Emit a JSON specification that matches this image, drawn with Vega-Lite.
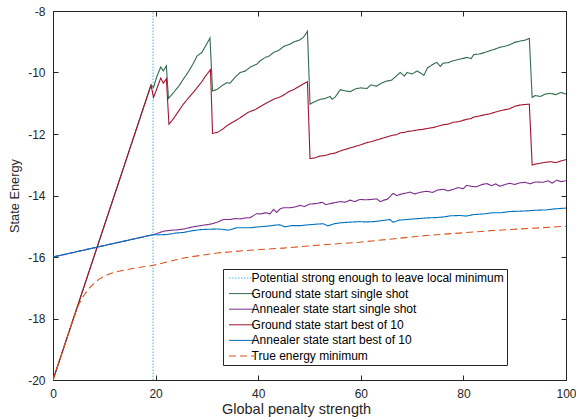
{
"$schema": "https://vega.github.io/schema/vega-lite/v6.json",
"autosize": "none",
"width": 513,
"height": 369,
"padding": {"left": 53, "top": 11, "right": 10, "bottom": 40},
"background": "white",
"datasets": {
"main": [
{"s":"Potential strong enough to leave local minimum","x":19.5,"y":-20},
{"s":"Potential strong enough to leave local minimum","x":19.5,"y":-8},
{"s":"Ground state start single shot","x":0,"y":-20},
{"s":"Ground state start single shot","x":19.1,"y":-10.41},
{"s":"Ground state start single shot","x":19.6,"y":-10.49},
{"s":"Ground state start single shot","x":20.2,"y":-10.15},
{"s":"Ground state start single shot","x":21.0,"y":-9.82},
{"s":"Ground state start single shot","x":21.5,"y":-9.95},
{"s":"Ground state start single shot","x":22.1,"y":-9.78},
{"s":"Ground state start single shot","x":22.5,"y":-10.84},
{"s":"Ground state start single shot","x":23.5,"y":-10.65},
{"s":"Ground state start single shot","x":24.5,"y":-10.45},
{"s":"Ground state start single shot","x":25.4,"y":-10.22},
{"s":"Ground state start single shot","x":26.3,"y":-10.0},
{"s":"Ground state start single shot","x":27.2,"y":-9.75},
{"s":"Ground state start single shot","x":28.1,"y":-9.46},
{"s":"Ground state start single shot","x":29.0,"y":-9.35},
{"s":"Ground state start single shot","x":29.8,"y":-9.12},
{"s":"Ground state start single shot","x":30.6,"y":-8.88},
{"s":"Ground state start single shot","x":31.1,"y":-10.6},
{"s":"Ground state start single shot","x":32,"y":-10.55},
{"s":"Ground state start single shot","x":33,"y":-10.42},
{"s":"Ground state start single shot","x":33.9,"y":-10.33},
{"s":"Ground state start single shot","x":34.5,"y":-10.35},
{"s":"Ground state start single shot","x":35.5,"y":-10.15},
{"s":"Ground state start single shot","x":36.5,"y":-10.0},
{"s":"Ground state start single shot","x":37.5,"y":-9.95},
{"s":"Ground state start single shot","x":38.5,"y":-9.82},
{"s":"Ground state start single shot","x":39.7,"y":-9.73},
{"s":"Ground state start single shot","x":40.5,"y":-9.6},
{"s":"Ground state start single shot","x":41.5,"y":-9.5},
{"s":"Ground state start single shot","x":42,"y":-9.48},
{"s":"Ground state start single shot","x":43,"y":-9.35},
{"s":"Ground state start single shot","x":44,"y":-9.28},
{"s":"Ground state start single shot","x":45,"y":-9.15},
{"s":"Ground state start single shot","x":46.2,"y":-9.08},
{"s":"Ground state start single shot","x":47,"y":-9.0},
{"s":"Ground state start single shot","x":48,"y":-8.95},
{"s":"Ground state start single shot","x":48.8,"y":-8.86},
{"s":"Ground state start single shot","x":49.6,"y":-8.66},
{"s":"Ground state start single shot","x":50.1,"y":-11.03},
{"s":"Ground state start single shot","x":51,"y":-10.95},
{"s":"Ground state start single shot","x":52.1,"y":-10.87},
{"s":"Ground state start single shot","x":53,"y":-10.85},
{"s":"Ground state start single shot","x":54,"y":-10.78},
{"s":"Ground state start single shot","x":54.4,"y":-10.87},
{"s":"Ground state start single shot","x":55,"y":-10.8},
{"s":"Ground state start single shot","x":56,"y":-10.56},
{"s":"Ground state start single shot","x":57,"y":-10.6},
{"s":"Ground state start single shot","x":58,"y":-10.62},
{"s":"Ground state start single shot","x":59,"y":-10.53},
{"s":"Ground state start single shot","x":60,"y":-10.5},
{"s":"Ground state start single shot","x":61.2,"y":-10.52},
{"s":"Ground state start single shot","x":62,"y":-10.4},
{"s":"Ground state start single shot","x":63,"y":-10.45},
{"s":"Ground state start single shot","x":64,"y":-10.35},
{"s":"Ground state start single shot","x":65,"y":-10.28},
{"s":"Ground state start single shot","x":66,"y":-10.25},
{"s":"Ground state start single shot","x":67,"y":-10.1},
{"s":"Ground state start single shot","x":67.7,"y":-10.0},
{"s":"Ground state start single shot","x":68.5,"y":-10.12},
{"s":"Ground state start single shot","x":69,"y":-10.0},
{"s":"Ground state start single shot","x":70,"y":-10.05},
{"s":"Ground state start single shot","x":71,"y":-9.95},
{"s":"Ground state start single shot","x":72.3,"y":-10.09},
{"s":"Ground state start single shot","x":73,"y":-9.85},
{"s":"Ground state start single shot","x":74.1,"y":-9.73},
{"s":"Ground state start single shot","x":74.8,"y":-9.67},
{"s":"Ground state start single shot","x":75.5,"y":-9.8},
{"s":"Ground state start single shot","x":76,"y":-9.7},
{"s":"Ground state start single shot","x":77,"y":-9.68},
{"s":"Ground state start single shot","x":78,"y":-9.62},
{"s":"Ground state start single shot","x":79,"y":-9.58},
{"s":"Ground state start single shot","x":80.7,"y":-9.51},
{"s":"Ground state start single shot","x":81.5,"y":-9.55},
{"s":"Ground state start single shot","x":82,"y":-9.42},
{"s":"Ground state start single shot","x":83,"y":-9.4},
{"s":"Ground state start single shot","x":84,"y":-9.36},
{"s":"Ground state start single shot","x":85,"y":-9.3},
{"s":"Ground state start single shot","x":86,"y":-9.25},
{"s":"Ground state start single shot","x":87.1,"y":-9.18},
{"s":"Ground state start single shot","x":88,"y":-9.15},
{"s":"Ground state start single shot","x":89,"y":-9.1},
{"s":"Ground state start single shot","x":90,"y":-9.02},
{"s":"Ground state start single shot","x":91,"y":-8.98},
{"s":"Ground state start single shot","x":92,"y":-8.95},
{"s":"Ground state start single shot","x":92.85,"y":-8.89},
{"s":"Ground state start single shot","x":93.4,"y":-10.81},
{"s":"Ground state start single shot","x":94,"y":-10.75},
{"s":"Ground state start single shot","x":95,"y":-10.78},
{"s":"Ground state start single shot","x":96,"y":-10.7},
{"s":"Ground state start single shot","x":97,"y":-10.68},
{"s":"Ground state start single shot","x":98,"y":-10.72},
{"s":"Ground state start single shot","x":99,"y":-10.65},
{"s":"Ground state start single shot","x":100,"y":-10.7},
{"s":"Annealer state start single shot","x":0,"y":-16},
{"s":"Annealer state start single shot","x":19.6,"y":-15.27},
{"s":"Annealer state start single shot","x":20,"y":-15.25},
{"s":"Annealer state start single shot","x":21.6,"y":-15.16},
{"s":"Annealer state start single shot","x":23,"y":-15.13},
{"s":"Annealer state start single shot","x":24,"y":-15.12},
{"s":"Annealer state start single shot","x":25.5,"y":-15.09},
{"s":"Annealer state start single shot","x":27,"y":-15.03},
{"s":"Annealer state start single shot","x":28.7,"y":-14.98},
{"s":"Annealer state start single shot","x":30,"y":-14.95},
{"s":"Annealer state start single shot","x":31,"y":-14.92},
{"s":"Annealer state start single shot","x":32,"y":-14.87},
{"s":"Annealer state start single shot","x":33.2,"y":-14.78},
{"s":"Annealer state start single shot","x":34.5,"y":-14.78},
{"s":"Annealer state start single shot","x":35.5,"y":-14.75},
{"s":"Annealer state start single shot","x":36.5,"y":-14.76},
{"s":"Annealer state start single shot","x":37.5,"y":-14.73},
{"s":"Annealer state start single shot","x":38.4,"y":-14.72},
{"s":"Annealer state start single shot","x":39.7,"y":-14.59},
{"s":"Annealer state start single shot","x":40.5,"y":-14.6},
{"s":"Annealer state start single shot","x":41.5,"y":-14.56},
{"s":"Annealer state start single shot","x":42.3,"y":-14.6},
{"s":"Annealer state start single shot","x":43,"y":-14.45},
{"s":"Annealer state start single shot","x":43.6,"y":-14.55},
{"s":"Annealer state start single shot","x":44.3,"y":-14.43},
{"s":"Annealer state start single shot","x":45,"y":-14.4},
{"s":"Annealer state start single shot","x":46,"y":-14.4},
{"s":"Annealer state start single shot","x":47,"y":-14.38},
{"s":"Annealer state start single shot","x":48.2,"y":-14.32},
{"s":"Annealer state start single shot","x":49,"y":-14.36},
{"s":"Annealer state start single shot","x":50,"y":-14.28},
{"s":"Annealer state start single shot","x":51.4,"y":-14.26},
{"s":"Annealer state start single shot","x":52.5,"y":-14.22},
{"s":"Annealer state start single shot","x":53.2,"y":-14.3},
{"s":"Annealer state start single shot","x":54.7,"y":-14.24},
{"s":"Annealer state start single shot","x":56,"y":-14.2},
{"s":"Annealer state start single shot","x":57,"y":-14.22},
{"s":"Annealer state start single shot","x":57.9,"y":-14.15},
{"s":"Annealer state start single shot","x":58.8,"y":-14.2},
{"s":"Annealer state start single shot","x":59.8,"y":-14.13},
{"s":"Annealer state start single shot","x":61,"y":-14.14},
{"s":"Annealer state start single shot","x":62,"y":-14.13},
{"s":"Annealer state start single shot","x":63.1,"y":-14.11},
{"s":"Annealer state start single shot","x":63.8,"y":-14.2},
{"s":"Annealer state start single shot","x":64.5,"y":-14.15},
{"s":"Annealer state start single shot","x":65.2,"y":-14.12},
{"s":"Annealer state start single shot","x":66.3,"y":-13.93},
{"s":"Annealer state start single shot","x":67,"y":-14.0},
{"s":"Annealer state start single shot","x":68,"y":-13.95},
{"s":"Annealer state start single shot","x":69.6,"y":-13.89},
{"s":"Annealer state start single shot","x":70.5,"y":-13.95},
{"s":"Annealer state start single shot","x":71.5,"y":-13.9},
{"s":"Annealer state start single shot","x":72.8,"y":-13.86},
{"s":"Annealer state start single shot","x":74,"y":-13.9},
{"s":"Annealer state start single shot","x":75,"y":-13.82},
{"s":"Annealer state start single shot","x":76.1,"y":-13.8},
{"s":"Annealer state start single shot","x":77,"y":-13.85},
{"s":"Annealer state start single shot","x":78,"y":-13.8},
{"s":"Annealer state start single shot","x":79,"y":-13.74},
{"s":"Annealer state start single shot","x":80,"y":-13.78},
{"s":"Annealer state start single shot","x":80.6,"y":-13.67},
{"s":"Annealer state start single shot","x":81.5,"y":-13.7},
{"s":"Annealer state start single shot","x":82.5,"y":-13.72},
{"s":"Annealer state start single shot","x":83.5,"y":-13.65},
{"s":"Annealer state start single shot","x":84.5,"y":-13.61},
{"s":"Annealer state start single shot","x":85.5,"y":-13.68},
{"s":"Annealer state start single shot","x":86.3,"y":-13.62},
{"s":"Annealer state start single shot","x":87.1,"y":-13.7},
{"s":"Annealer state start single shot","x":88,"y":-13.65},
{"s":"Annealer state start single shot","x":89,"y":-13.6},
{"s":"Annealer state start single shot","x":90,"y":-13.64},
{"s":"Annealer state start single shot","x":91,"y":-13.59},
{"s":"Annealer state start single shot","x":92,"y":-13.57},
{"s":"Annealer state start single shot","x":93,"y":-13.62},
{"s":"Annealer state start single shot","x":94,"y":-13.56},
{"s":"Annealer state start single shot","x":95.6,"y":-13.57},
{"s":"Annealer state start single shot","x":96.5,"y":-13.52},
{"s":"Annealer state start single shot","x":97.3,"y":-13.6},
{"s":"Annealer state start single shot","x":98.2,"y":-13.5},
{"s":"Annealer state start single shot","x":99,"y":-13.55},
{"s":"Annealer state start single shot","x":100,"y":-13.52},
{"s":"Ground state start best of 10","x":0,"y":-20},
{"s":"Ground state start best of 10","x":19.1,"y":-10.41},
{"s":"Ground state start best of 10","x":19.6,"y":-10.81},
{"s":"Ground state start best of 10","x":20.3,"y":-10.5},
{"s":"Ground state start best of 10","x":21.0,"y":-10.18},
{"s":"Ground state start best of 10","x":21.5,"y":-10.35},
{"s":"Ground state start best of 10","x":22.1,"y":-10.2},
{"s":"Ground state start best of 10","x":22.6,"y":-11.68},
{"s":"Ground state start best of 10","x":23.5,"y":-11.5},
{"s":"Ground state start best of 10","x":24.5,"y":-11.25},
{"s":"Ground state start best of 10","x":25.4,"y":-11.03},
{"s":"Ground state start best of 10","x":26.3,"y":-10.85},
{"s":"Ground state start best of 10","x":27.2,"y":-10.68},
{"s":"Ground state start best of 10","x":28.1,"y":-10.49},
{"s":"Ground state start best of 10","x":29,"y":-10.3},
{"s":"Ground state start best of 10","x":29.8,"y":-10.1},
{"s":"Ground state start best of 10","x":30.7,"y":-9.91},
{"s":"Ground state start best of 10","x":31.1,"y":-11.98},
{"s":"Ground state start best of 10","x":32,"y":-11.95},
{"s":"Ground state start best of 10","x":33,"y":-11.85},
{"s":"Ground state start best of 10","x":34,"y":-11.72},
{"s":"Ground state start best of 10","x":35,"y":-11.62},
{"s":"Ground state start best of 10","x":36.5,"y":-11.47},
{"s":"Ground state start best of 10","x":38,"y":-11.3},
{"s":"Ground state start best of 10","x":39.5,"y":-11.2},
{"s":"Ground state start best of 10","x":41,"y":-11.05},
{"s":"Ground state start best of 10","x":43,"y":-10.87},
{"s":"Ground state start best of 10","x":44.5,"y":-10.78},
{"s":"Ground state start best of 10","x":46,"y":-10.62},
{"s":"Ground state start best of 10","x":47,"y":-10.55},
{"s":"Ground state start best of 10","x":48.2,"y":-10.43},
{"s":"Ground state start best of 10","x":49.6,"y":-10.3},
{"s":"Ground state start best of 10","x":50.1,"y":-12.8},
{"s":"Ground state start best of 10","x":51,"y":-12.78},
{"s":"Ground state start best of 10","x":52,"y":-12.72},
{"s":"Ground state start best of 10","x":53,"y":-12.7},
{"s":"Ground state start best of 10","x":54,"y":-12.65},
{"s":"Ground state start best of 10","x":55,"y":-12.62},
{"s":"Ground state start best of 10","x":56,"y":-12.55},
{"s":"Ground state start best of 10","x":57,"y":-12.5},
{"s":"Ground state start best of 10","x":58,"y":-12.45},
{"s":"Ground state start best of 10","x":59,"y":-12.4},
{"s":"Ground state start best of 10","x":60,"y":-12.35},
{"s":"Ground state start best of 10","x":61.2,"y":-12.28},
{"s":"Ground state start best of 10","x":62,"y":-12.25},
{"s":"Ground state start best of 10","x":63,"y":-12.2},
{"s":"Ground state start best of 10","x":64,"y":-12.15},
{"s":"Ground state start best of 10","x":65,"y":-12.1},
{"s":"Ground state start best of 10","x":66,"y":-12.05},
{"s":"Ground state start best of 10","x":67,"y":-12.02},
{"s":"Ground state start best of 10","x":67.7,"y":-11.96},
{"s":"Ground state start best of 10","x":68.5,"y":-11.95},
{"s":"Ground state start best of 10","x":69,"y":-11.92},
{"s":"Ground state start best of 10","x":70,"y":-11.9},
{"s":"Ground state start best of 10","x":71,"y":-11.87},
{"s":"Ground state start best of 10","x":72,"y":-11.85},
{"s":"Ground state start best of 10","x":73,"y":-11.82},
{"s":"Ground state start best of 10","x":74.1,"y":-11.79},
{"s":"Ground state start best of 10","x":75,"y":-11.75},
{"s":"Ground state start best of 10","x":76,"y":-11.7},
{"s":"Ground state start best of 10","x":77,"y":-11.68},
{"s":"Ground state start best of 10","x":78,"y":-11.62},
{"s":"Ground state start best of 10","x":79,"y":-11.6},
{"s":"Ground state start best of 10","x":80.7,"y":-11.52},
{"s":"Ground state start best of 10","x":81.5,"y":-11.5},
{"s":"Ground state start best of 10","x":82,"y":-11.45},
{"s":"Ground state start best of 10","x":83,"y":-11.42},
{"s":"Ground state start best of 10","x":84,"y":-11.38},
{"s":"Ground state start best of 10","x":85,"y":-11.35},
{"s":"Ground state start best of 10","x":86,"y":-11.3},
{"s":"Ground state start best of 10","x":87,"y":-11.25},
{"s":"Ground state start best of 10","x":88.4,"y":-11.2},
{"s":"Ground state start best of 10","x":89,"y":-11.18},
{"s":"Ground state start best of 10","x":90,"y":-11.1},
{"s":"Ground state start best of 10","x":91,"y":-11.06},
{"s":"Ground state start best of 10","x":92,"y":-11.04},
{"s":"Ground state start best of 10","x":92.85,"y":-11.03},
{"s":"Ground state start best of 10","x":93.4,"y":-13.01},
{"s":"Ground state start best of 10","x":94,"y":-12.98},
{"s":"Ground state start best of 10","x":95,"y":-12.95},
{"s":"Ground state start best of 10","x":96,"y":-12.92},
{"s":"Ground state start best of 10","x":97,"y":-12.9},
{"s":"Ground state start best of 10","x":98,"y":-12.93},
{"s":"Ground state start best of 10","x":99,"y":-12.88},
{"s":"Ground state start best of 10","x":100,"y":-12.83},
{"s":"Annealer state start best of 10","x":0,"y":-16},
{"s":"Annealer state start best of 10","x":19.6,"y":-15.27},
{"s":"Annealer state start best of 10","x":20.5,"y":-15.28},
{"s":"Annealer state start best of 10","x":22.2,"y":-15.27},
{"s":"Annealer state start best of 10","x":23,"y":-15.25},
{"s":"Annealer state start best of 10","x":24,"y":-15.22},
{"s":"Annealer state start best of 10","x":25.5,"y":-15.2},
{"s":"Annealer state start best of 10","x":27,"y":-15.15},
{"s":"Annealer state start best of 10","x":28.7,"y":-15.11},
{"s":"Annealer state start best of 10","x":30,"y":-15.1},
{"s":"Annealer state start best of 10","x":32,"y":-15.09},
{"s":"Annealer state start best of 10","x":33,"y":-15.1},
{"s":"Annealer state start best of 10","x":34.2,"y":-15.13},
{"s":"Annealer state start best of 10","x":35.8,"y":-15.05},
{"s":"Annealer state start best of 10","x":37,"y":-15.05},
{"s":"Annealer state start best of 10","x":38.4,"y":-15.05},
{"s":"Annealer state start best of 10","x":40,"y":-15.02},
{"s":"Annealer state start best of 10","x":41.6,"y":-15.0},
{"s":"Annealer state start best of 10","x":43,"y":-14.97},
{"s":"Annealer state start best of 10","x":44.2,"y":-14.95},
{"s":"Annealer state start best of 10","x":45.2,"y":-15.02},
{"s":"Annealer state start best of 10","x":46.5,"y":-14.98},
{"s":"Annealer state start best of 10","x":48.2,"y":-14.98},
{"s":"Annealer state start best of 10","x":50,"y":-14.95},
{"s":"Annealer state start best of 10","x":51.5,"y":-14.93},
{"s":"Annealer state start best of 10","x":52.7,"y":-14.92},
{"s":"Annealer state start best of 10","x":53.6,"y":-14.99},
{"s":"Annealer state start best of 10","x":54.8,"y":-14.92},
{"s":"Annealer state start best of 10","x":56,"y":-14.89},
{"s":"Annealer state start best of 10","x":57.5,"y":-14.87},
{"s":"Annealer state start best of 10","x":59.8,"y":-14.85},
{"s":"Annealer state start best of 10","x":61,"y":-14.86},
{"s":"Annealer state start best of 10","x":62.5,"y":-14.85},
{"s":"Annealer state start best of 10","x":64,"y":-14.82},
{"s":"Annealer state start best of 10","x":65.7,"y":-14.78},
{"s":"Annealer state start best of 10","x":66.3,"y":-14.87},
{"s":"Annealer state start best of 10","x":67.5,"y":-14.8},
{"s":"Annealer state start best of 10","x":69,"y":-14.78},
{"s":"Annealer state start best of 10","x":70.5,"y":-14.76},
{"s":"Annealer state start best of 10","x":72.8,"y":-14.73},
{"s":"Annealer state start best of 10","x":74.5,"y":-14.72},
{"s":"Annealer state start best of 10","x":76,"y":-14.7},
{"s":"Annealer state start best of 10","x":77.5,"y":-14.66},
{"s":"Annealer state start best of 10","x":79.3,"y":-14.65},
{"s":"Annealer state start best of 10","x":80.5,"y":-14.67},
{"s":"Annealer state start best of 10","x":82,"y":-14.62},
{"s":"Annealer state start best of 10","x":84,"y":-14.6},
{"s":"Annealer state start best of 10","x":85.8,"y":-14.56},
{"s":"Annealer state start best of 10","x":87.5,"y":-14.56},
{"s":"Annealer state start best of 10","x":89,"y":-14.52},
{"s":"Annealer state start best of 10","x":91,"y":-14.51},
{"s":"Annealer state start best of 10","x":92.5,"y":-14.5},
{"s":"Annealer state start best of 10","x":94,"y":-14.48},
{"s":"Annealer state start best of 10","x":96,"y":-14.47},
{"s":"Annealer state start best of 10","x":97.5,"y":-14.44},
{"s":"Annealer state start best of 10","x":99,"y":-14.42},
{"s":"Annealer state start best of 10","x":100,"y":-14.41},
{"s":"True energy minimum","x":0,"y":-20},
{"s":"True energy minimum","x":1,"y":-19.5},
{"s":"True energy minimum","x":2,"y":-19.0},
{"s":"True energy minimum","x":3,"y":-18.5},
{"s":"True energy minimum","x":4,"y":-18.0},
{"s":"True energy minimum","x":5,"y":-17.55},
{"s":"True energy minimum","x":6,"y":-17.25},
{"s":"True energy minimum","x":7,"y":-17.03},
{"s":"True energy minimum","x":8,"y":-16.85},
{"s":"True energy minimum","x":9,"y":-16.72},
{"s":"True energy minimum","x":10,"y":-16.63},
{"s":"True energy minimum","x":11,"y":-16.55},
{"s":"True energy minimum","x":12,"y":-16.5},
{"s":"True energy minimum","x":13.8,"y":-16.43},
{"s":"True energy minimum","x":16,"y":-16.36},
{"s":"True energy minimum","x":19.6,"y":-16.27},
{"s":"True energy minimum","x":25.5,"y":-16.03},
{"s":"True energy minimum","x":32,"y":-15.87},
{"s":"True energy minimum","x":38.4,"y":-15.78},
{"s":"True energy minimum","x":44.9,"y":-15.71},
{"s":"True energy minimum","x":51.4,"y":-15.62},
{"s":"True energy minimum","x":59.7,"y":-15.52},
{"s":"True energy minimum","x":72.8,"y":-15.3},
{"s":"True energy minimum","x":85.8,"y":-15.14},
{"s":"True energy minimum","x":100,"y":-15.0}
]
},
"data": {"name": "main"},
"layer": [
{
"mark": {"type": "line", "strokeWidth": 1.1, "clip": true},
"encoding": {
"x": {"field": "x", "type": "quantitative", "scale": {"domain": [0, 100], "nice": false, "zero": false},
 "axis": {"orient": "bottom", "values": [0, 20, 40, 60, 80, 100], "title": "Global penalty strength", "titleX": 243, "titleAlign": "center", "labelPadding": 13, "titlePadding": 3, "labelFlush": false, "titleFontSize": 14.5}},
"y": {"field": "y", "type": "quantitative", "scale": {"domain": [-20, -8], "nice": false, "zero": false},
 "axis": {"orient": "left", "values": [-20, -18, -16, -14, -12, -10, -8], "title": "State Energy", "labelPadding": 13, "titlePadding": 6, "labelFlush": false, "titleFontSize": 12.8,
  "labelExpr": "datum.value < 0 ? '-' + abs(datum.value) : '' + datum.value"}},
"color": {"field": "s", "type": "nominal",
 "scale": {"domain": ["Potential strong enough to leave local minimum", "Ground state start single shot", "Annealer state start single shot", "Ground state start best of 10", "Annealer state start best of 10", "True energy minimum"],
  "range": ["#4DBEEE", "#336B4D", "#7E2F8E", "#A2142F", "#0072BD", "#D95319"]},
 "legend": {"title": null}},
"strokeDash": {"field": "s", "type": "nominal",
 "scale": {"domain": ["Potential strong enough to leave local minimum", "Ground state start single shot", "Annealer state start single shot", "Ground state start best of 10", "Annealer state start best of 10", "True energy minimum"],
  "range": [[1.5, 1.5], [1, 0], [1, 0], [1, 0], [1, 0], [7, 4]]},
 "legend": {"title": null}},
"order": {"field": "x", "type": "quantitative"}
}
},
{
"mark": {"type": "line", "opacity": 0},
"encoding": {
"x": {"field": "x", "type": "quantitative", "axis": {"orient": "top", "values": [0, 20, 40, 60, 80, 100], "labels": false, "title": null}},
"y": {"field": "y", "type": "quantitative", "axis": {"orient": "right", "values": [-20, -18, -16, -14, -12, -10, -8], "labels": false, "title": null}},
"detail": {"field": "s", "type": "nominal"}
}
}
],
"resolve": {"axis": {"x": "independent", "y": "independent"}},
"config": {
"font": "Liberation Sans",
"view": {"stroke": "#262626", "strokeWidth": 1},
"axis": {"domain": false, "grid": false, "ticks": true, "tickSize": -5, "tickColor": "#262626", "tickWidth": 1,
 "labelColor": "#262626", "labelFontSize": 12, "labelFont": "Liberation Sans",
 "titleColor": "#262626", "titleFontSize": 13.5, "titleFontWeight": "normal", "titleFont": "Liberation Sans"},
"legend": {"orient": "none", "legendX": 170, "legendY": 258, "strokeColor": "#262626", "fillColor": "white",
 "padding": 3, "rowPadding": 3.6, "labelFontSize": 12, "labelColor": "#000000", "labelFont": "Liberation Sans",
 "symbolType": "M-0.6,0H4.4", "symbolSize": 100, "symbolStrokeWidth": 1, "labelOffset": 13.6, "labelLimit": 500}
}
}
